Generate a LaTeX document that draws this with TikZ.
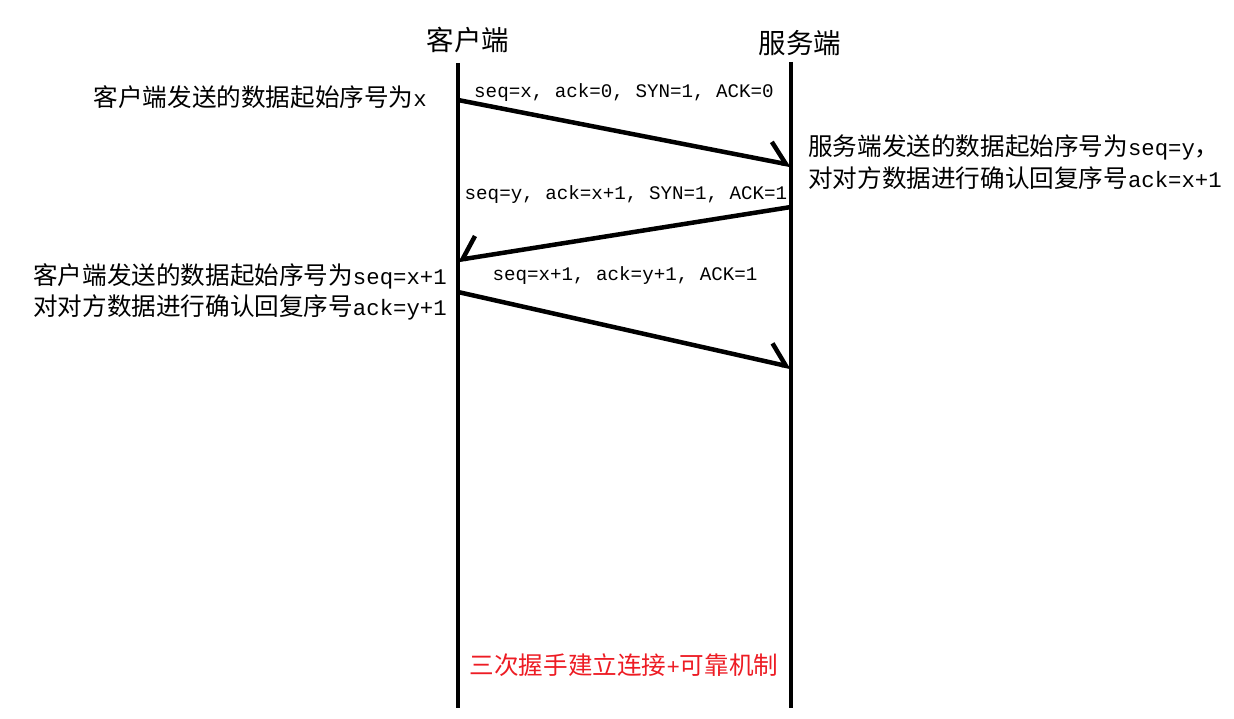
\documentclass[tikz,border=0pt]{standalone}
\usepackage{fontspec}
\usepackage{tikz}
\usetikzlibrary{arrows.meta}
\newfontfamily\cjk{Noto Sans CJK SC}
\newfontfamily\lat{Liberation Mono}
\definecolor{notered}{RGB}{237,28,36}
\newcommand{\en}[1]{{\lat\fontsize{22.3}{31.5}\selectfont #1}}

\begin{document}
\begin{tikzpicture}[x=1pt, y=-1pt,
  life/.style={line width=4.8pt},
  msg/.style={line width=4.5pt, -{Straight Barb[harpoon, length=18pt, width=38pt, line width=4.5pt]}},
  msgback/.style={line width=4.5pt, -{Straight Barb[harpoon, swap, length=16pt, width=42pt, line width=4.5pt]}},
  title/.style={font=\cjk\fontsize{27.5}{32}\selectfont, inner sep=0pt},
  note/.style={font=\cjk\fontsize{24.6}{31.5}\selectfont, align=left, inner sep=0pt},
  field/.style={font=\lat\fontsize{19.2}{24}\selectfont, inner sep=0pt}]
  \useasboundingbox (0,0) rectangle (1234,719);

  % Lifelines
  \coordinate (cTop) at (458, 63);
  \coordinate (cBot) at (458, 708);
  \coordinate (sTop) at (791, 62);
  \coordinate (sBot) at (791, 708);
  \node[title] (client) at (468, 40) {客户端};
  \node[title] (server) at (800, 43) {服务端};
  \draw[life] (cTop) -- (cBot);
  \draw[life] (sTop) -- (sBot);

  % Message ends
  \coordinate (c1) at (458, 100);
  \coordinate (s1) at (791, 165);
  \coordinate (s2) at (791, 207);
  \coordinate (c2) at (458, 260);
  \coordinate (c3) at (458, 292);
  \coordinate (s3) at (791, 367);

  % Arrows
  \draw[msg] (c1) -- (s1);
  \draw[msgback] (s2) -- (c2);
  \draw[msg] (c3) -- (s3);

  % Fields
  \node[field] (syn) at (624, 93) {seq=x, ack=0, SYN=1, ACK=0};
  \node[field] (synack) at (626, 195) {seq=y, ack=x+1, SYN=1, ACK=1};
  \node[field] (ack) at (625, 276) {seq=x+1, ack=y+1, ACK=1};

  % Notes
  \node[note, anchor=east] (cnote1) at (427, 97) {客户端发送的数据起始序号为\en{x}};
  \node[note, anchor=west] (snote) at (808, 162)
    {服务端发送的数据起始序号为\en{seq=y}，\\对对方数据进行确认回复序号\en{ack=x+1}};
  \node[note, anchor=west] (cnote2) at (33, 292)
    {客户端发送的数据起始序号为\en{seq=x+1}\\对对方数据进行确认回复序号\en{ack=y+1}};
  \node[note, text=notered] (summary) at (624, 665) {三次握手建立连接\en{+}可靠机制};
\end{tikzpicture}
\end{document}
